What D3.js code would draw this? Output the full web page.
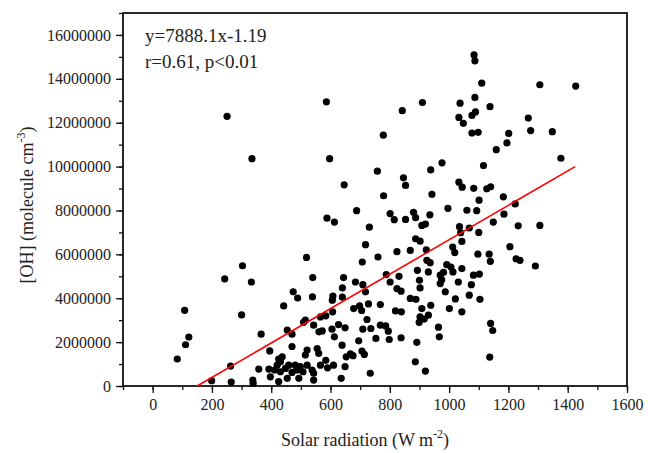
<!DOCTYPE html>
<html><head><meta charset="utf-8">
<script src="https://cdn.jsdelivr.net/npm/d3@7"></script>
<style>
html,body{margin:0;padding:0;background:#fff;}
svg{display:block;}
text{font-family:"Liberation Serif","Times New Roman",serif;fill:#222;}
</style></head>
<body><svg id="chart" width="648" height="453"></svg>
<script>
// Solar radiation (W m-2)
const solarRad = [83,108,122,111,199,243,251,263,265,300,303,333,335,338,339,358,366,392,395,397,425,420,431,437,442,454,470,470,474,489,509,425,411,431,448,459,470,481,487,498,493,507,454,555,540,539,644,640,608,606,640,684,709,718,788,801,831,824,838,893,900,902,869,888,930,678,698,705,728,768,819,839,908,902,916,938,930,899,515,584,607,543,561,572,605,627,649,613,723,709,736,753,768,786,795,798,838,695,667,676,653,706,714,649,610,584,590,566,560,521,515,538,543,521,734,636,891,886,920,543,597,758,646,846,853,938,779,942,688,588,613,731,801,815,853,880,887,908,920,935,718,519,707,760,824,869,887,902,923,925,936,586,842,910,778,1084,1087,1110,1306,1427,1037,1087,1138,1033,1048,1077,1089,1267,1275,1348,1077,1098,1201,1195,1159,1377,976,1116,1033,1044,1083,1127,1140,1101,1183,996,1060,1093,1223,1185,1149,1233,1306,1035,1068,1100,1039,1043,1012,1019,1205,1097,1135,1139,1226,1239,992,1006,1043,1291,1031,1082,1102,1075,970,987,1021,1068,1104,1001,1043,964,967,1140,1147,1137,970,981,975,1013,639,566];
// [OH] (molecule cm-3)
const ohConc = [1.23e6,3.45e6,2.23e6,1.88e6,0.24e6,4.88e6,12.29e6,0.91e6,0.18e6,3.24e6,5.48e6,4.74e6,10.36e6,0.27e6,0.12e6,0.77e6,2.36e6,0.77e6,1.6e6,0.42e6,0.2e6,0.95e6,1.1e6,1.33e6,3.65e6,2.55e6,2.36e6,1.8e6,4.29e6,4.01e6,2.9e6,1.23e6,0.73e6,0.65e6,0.8e6,0.95e6,0.62e6,0.95e6,0.73e6,0.88e6,0.35e6,0.65e6,0.35e6,1.71e6,4.94e6,4.06e6,4.94e6,4.47e6,4.1e6,3.91e6,4.05e6,4.74e6,4.62e6,4.29e6,5.08e6,4.74e6,5.0e6,4.44e6,4.32e6,5.27e6,4.82e6,4.47e6,3.99e6,3.95e6,5.2e6,3.53e6,3.65e6,3.44e6,3.74e6,3.71e6,3.42e6,3.38e6,3.53e6,3.15e6,3.05e6,3.68e6,3.23e6,2.9e6,3.0e6,3.2e6,3.38e6,2.77e6,2.47e6,2.51e6,2.59e6,2.8e6,2.65e6,2.24e6,3.03e6,2.59e6,2.62e6,2.17e6,2.77e6,2.74e6,2.5e6,2.12e6,2.2e6,2.06e6,1.47e6,1.38e6,1.33e6,1.59e6,1.44e6,0.88e6,0.95e6,1.17e6,0.83e6,0.95e6,1.49e6,1.64e6,1.41e6,0.73e6,0.58e6,0.95e6,0.58e6,0.35e6,1.99e6,1.1e6,0.68e6,0.27e6,10.36e6,9.79e6,9.17e6,9.49e6,9.14e6,9.85e6,8.67e6,8.74e6,7.99e6,7.65e6,7.47e6,7.24e6,7.86e6,7.58e6,7.59e6,7.92e6,7.67e6,7.32e6,7.38e6,7.8e6,6.44e6,5.86e6,5.65e6,5.88e6,6.12e6,6.18e6,6.71e6,6.6e6,6.21e6,5.73e6,5.62e6,12.95e6,12.55e6,12.92e6,11.43e6,15.09e6,14.82e6,13.8e6,13.73e6,13.67e6,12.89e6,13.15e6,12.73e6,12.24e6,11.97e6,12.33e6,12.49e6,12.21e6,11.64e6,11.59e6,11.53e6,11.56e6,11.51e6,11.08e6,10.77e6,10.38e6,10.17e6,10.05e6,9.29e6,9.06e6,9.01e6,8.99e6,9.08e6,8.47e6,8.62e6,8.1e6,8.01e6,7.99e6,8.3e6,7.83e6,7.47e6,7.3e6,7.32e6,7.26e6,7.2e6,7.0e6,6.99e6,6.59e6,6.33e6,6.08e6,6.35e6,6.01e6,6.01e6,5.68e6,5.8e6,5.73e6,5.53e6,5.42e6,5.35e6,5.47e6,4.74e6,5.05e6,5.1e6,4.62e6,4.67e6,4.29e6,3.97e6,4.14e6,3.95e6,3.53e6,3.38e6,2.68e6,2.24e6,2.85e6,2.53e6,1.32e6,5.05e6,5.18e6,4.84e6,5.2e6,1.86e6,3.15e6];
// regression line endpoints
const fitX = [150, 1425];
const fitY = [0, 10000000];
const xTicks = [0,200,400,600,800,1000,1200,1400,1600];
const yTicks = [0,2000000,4000000,6000000,8000000,10000000,12000000,14000000,16000000];
const annotations = ["y=7888.1x-1.19", "r=0.61, p<0.01"];

const svg = d3.select("#chart");
const L = 123, R = 627, T = 13, B = 386;
const x = d3.scaleLinear().domain([-100, 1600]).range([L, R]);
const y = d3.scaleLinear().domain([0, 17000000]).range([B, T]);

// minor ticks
const xMinor = d3.range(-100, 1601, 100);
const yMinor = d3.range(0, 17000001, 1000000);
const gxm = svg.append("g").attr("transform", `translate(0,${B})`)
  .call(d3.axisBottom(x).tickValues(xMinor).tickSize(4).tickFormat(""));
const gym = svg.append("g").attr("transform", `translate(${L},0)`)
  .call(d3.axisLeft(y).tickValues(yMinor).tickSize(4).tickFormat(""));
const gx = svg.append("g").attr("transform", `translate(0,${B})`)
  .call(d3.axisBottom(x).tickValues(xTicks).tickSize(7).tickPadding(6).tickFormat(d3.format("d")));
const gy = svg.append("g").attr("transform", `translate(${L},0)`)
  .call(d3.axisLeft(y).tickValues(yTicks).tickSize(7).tickPadding(5).tickFormat(d3.format("d")));
[gxm, gym, gx, gy].forEach(g => {
  g.select(".domain").remove();
  g.selectAll("line").attr("stroke", "#111").attr("stroke-width", 1.3);
});
gx.selectAll("text").attr("font-size", 16).attr("fill", "#222").attr("font-family", "Liberation Serif");
gy.selectAll("text").attr("font-size", 16).attr("fill", "#222").attr("font-family", "Liberation Serif");

// frame
svg.append("rect").attr("x", L).attr("y", T).attr("width", R - L).attr("height", B - T)
  .attr("fill", "none").attr("stroke", "#111").attr("stroke-width", 1.8);

// points
svg.append("g").selectAll("circle").data(solarRad.map((d, i) => [d, ohConc[i]]))
  .join("circle")
  .attr("cx", d => x(d[0])).attr("cy", d => y(d[1])).attr("r", 3.6).attr("fill", "#000");

// fit line
svg.append("line")
  .attr("x1", x(fitX[0])).attr("y1", y(fitY[0]))
  .attr("x2", x(fitX[1])).attr("y2", y(fitY[1]))
  .attr("stroke", "#ff0000").attr("stroke-width", 1.6);

// annotations
svg.append("text").attr("x", 145).attr("y", 41.5).attr("font-size", 19).text(annotations[0]);
svg.append("text").attr("x", 145).attr("y", 68).attr("font-size", 19).text(annotations[1]);

// axis titles
const xt = svg.append("text").attr("x", 365).attr("y", 446).attr("text-anchor", "middle").attr("font-size", 18);
xt.append("tspan").text("Solar radiation (W m");
xt.append("tspan").attr("font-size", 12).attr("dy", -8).text("-2");
xt.append("tspan").attr("dy", 8).text(")");

const yt = svg.append("text").attr("transform", "translate(33,205) rotate(-90)")
  .attr("text-anchor", "middle").attr("font-size", 18);
yt.append("tspan").text("[OH] (molecule cm");
yt.append("tspan").attr("font-size", 12).attr("dy", -8).text("-3");
yt.append("tspan").attr("dy", 8).text(")");
</script></body></html>
